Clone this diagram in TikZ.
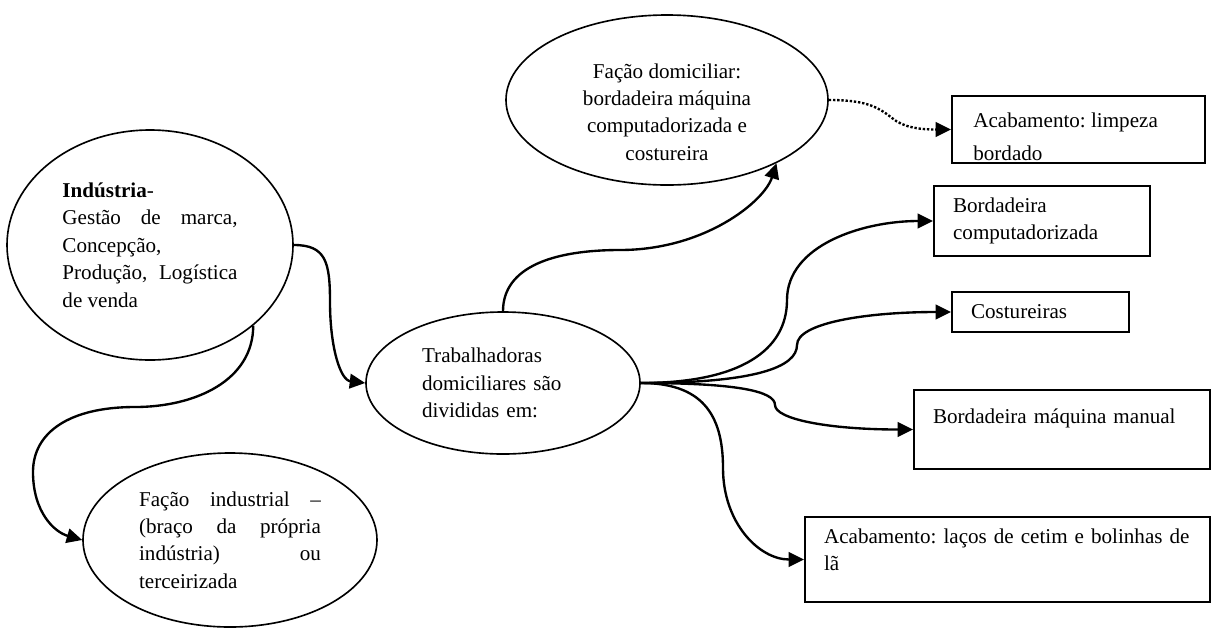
\documentclass[tikz,border=0pt]{standalone}
\usepackage{fontspec}
\setmainfont{Liberation Serif}
\usepackage{tikz}
\usetikzlibrary{shapes,arrows.meta,calc}

\begin{document}
\begin{tikzpicture}[x=0.55pt,y=-0.55pt,
    every node/.style={font=\fontsize{11.6pt}{15.1pt}\selectfont\frenchspacing},
    oval/.style={draw, ellipse, line width=0.9pt, inner sep=0pt},
    caixa/.style={draw, rectangle, line width=1pt, inner xsep=10.5pt, inner ysep=0pt, align=left},
    seta/.style={line width=1.3pt, -{Triangle[length=8.5pt,width=8pt]}}]
    \useasboundingbox (0,0) rectangle (1214,630);

    % Ellipses
    \node[oval, minimum width=157.3pt, minimum height=126.5pt, text width=96.3pt, align=justify] (ind) at (150,245)
        {\textbf{Indústria}-\\Gestão de marca,\linebreak Concepção,\\Produção, Logística\linebreak de venda};
    \node[oval, minimum width=161.7pt, minimum height=95.7pt, text width=100pt, align=justify] (fin) at (230,540)
        {Fação industrial –\linebreak (braço da própria\linebreak indústria) ou\linebreak terceirizada};
    \node[oval, minimum width=150.7pt, minimum height=78.1pt, text width=89pt, align=left] (trab) at (503,383)
        {Trabalhadoras\\domiciliares são\\divididas em:};
    \node[oval, minimum width=177.1pt, minimum height=93.5pt] (dom) at (667,100) {};
    \node[align=center] (domtxt) at (667,112) {Fação domiciliar:\\bordadeira máquina\\computadorizada e\\costureira};

    % Boxes
    \node[caixa, minimum width=139.2pt, minimum height=36.9pt] (lim) at (1078.5,129.5) {};
    \begin{scope}
        \clip ($(lim.north west)+(1,1)$) rectangle ($(lim.south east)+(-1,-3)$);
        \node[anchor=north west, align=left, inner sep=0pt] (limtxt) at (973,112) {Acabamento: limpeza\\[3.5pt]bordado};
    \end{scope}
    \node[caixa, text width=97.8pt, minimum height=38.5pt] (comp) at (1042,221) {Bordadeira\\computadorizada};
    \node[caixa, text width=76.4pt, minimum height=22pt] (cos) at (1040.5,312) {Costureiras};
    \node[caixa, text width=141.8pt, minimum height=43.5pt] (man) at (1062,429.5) {Bordadeira máquina manual\\\mbox{}};
    \node[caixa, text width=201.8pt, minimum height=46.8pt] (lac) at (1007.5,559.5) {Acabamento: laços de cetim e bolinhas de\\lã\\[-4pt]\mbox{}};

    % Connectors
    \draw[seta] (ind.east) .. controls +(32,0) and +(0,-40) .. (330,302) .. controls +(0,45) and +(-25,-3) .. (trab.west);
    \draw[seta] (ind.-38) .. controls +(0,55) and +(60,0) .. (135,407) .. controls +(-65,0) and +(0,-40) .. (33,472) .. controls +(0,40) and +(-28,-8) .. (fin.west);
    \draw[seta] (trab.north) .. controls +(0,-45) and +(-65,0) .. (620,250) .. controls +(85,0) and +(-12,38) .. (dom.-30);
    \draw[seta, densely dotted] (dom.east) .. controls +(35,0) and +(-15,-12) .. (892,118) .. controls +(12,10) and +(-30,0) .. (lim.west);

    % Fan out of trab
    \draw[seta] (trab.east) .. controls +(100,0) and +(0,50) .. (787,300) .. controls +(0,-55) and +(-70,0) .. (comp.west);
    \draw[seta] (trab.east) .. controls +(115,0) and +(0,22) .. (797,345) .. controls +(0,-22) and +(-85,0) .. (cos.west);
    \draw[seta] (trab.east) .. controls +(95,0) and +(0,-14) .. (775,405) .. controls +(0,14) and +(-85,0) .. (man.west);
    \draw[seta] (trab.east) .. controls +(60,0) and +(0,-55) .. (723,468) .. controls +(0,55) and +(-45,0) .. (lac.west);
\end{tikzpicture}
\end{document}
